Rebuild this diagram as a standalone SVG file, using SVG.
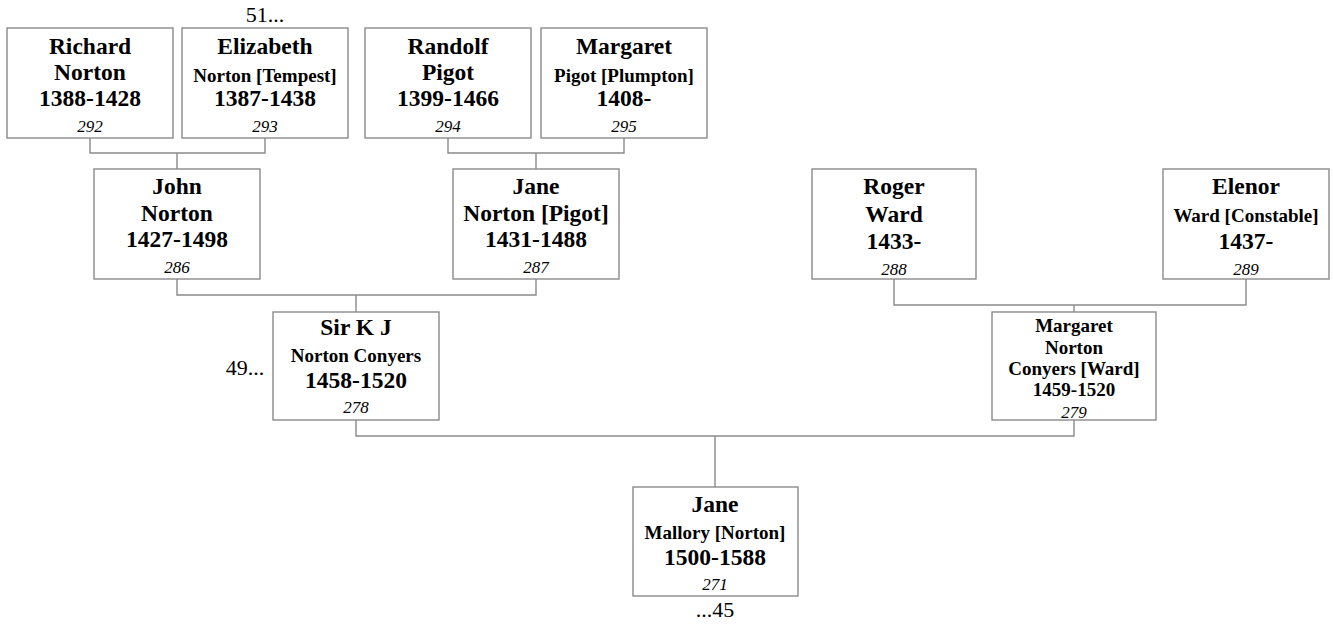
<svg xmlns="http://www.w3.org/2000/svg" width="1333" height="625" viewBox="0 0 1333 625">
<style>
.box{fill:#fff;stroke:#8a8a8a;stroke-width:1.4}
.con{fill:none;stroke:#8a8a8a;stroke-width:1.4}
text{font-family:"Liberation Serif","Times New Roman",serif;text-anchor:middle;fill:#000}
.n{font-size:23.5px;font-weight:bold}
.s{font-size:19px;font-weight:bold}
.i{font-size:17px;font-style:italic}
.r{font-size:22px}
</style>
<rect width="1333" height="625" fill="#fff"/>
<g id="connectors">
<path class="con" d="M90,138V153H265V138M177,153V169"/>
<path class="con" d="M448,138V153H624V138M536,153V169"/>
<path class="con" d="M177,279V295H536V279M356,295V312"/>
<path class="con" d="M894,279V305H1246V279M1074,305V312"/>
<path class="con" d="M356,420V436H1074V420M715,436V487"/>
</g>
<g id="richard">
<rect class="box" x="7" y="28" width="166" height="110"/>
<text class="n" x="90" y="54">Richard</text>
<text class="n" x="90" y="80">Norton</text>
<text class="n" x="90" y="106">1388-1428</text>
<text class="i" x="90" y="132">292</text>
</g>
<g id="elizabeth">
<rect class="box" x="182" y="28" width="166" height="110"/>
<text class="n" x="265" y="54">Elizabeth</text>
<text class="s" x="265" y="82">Norton [Tempest]</text>
<text class="n" x="265" y="106">1387-1438</text>
<text class="i" x="265" y="132">293</text>
</g>
<text class="r" x="265" y="22">51...</text>
<g id="randolf">
<rect class="box" x="365" y="28" width="166" height="110"/>
<text class="n" x="448" y="54">Randolf</text>
<text class="n" x="448" y="80">Pigot</text>
<text class="n" x="448" y="106">1399-1466</text>
<text class="i" x="448" y="132">294</text>
</g>
<g id="margaret-pigot">
<rect class="box" x="541" y="28" width="166" height="110"/>
<text class="n" x="624" y="54">Margaret</text>
<text class="s" x="624" y="82">Pigot [Plumpton]</text>
<text class="n" x="624" y="106">1408-</text>
<text class="i" x="624" y="132">295</text>
</g>
<g id="john">
<rect class="box" x="94" y="169" width="166" height="110"/>
<text class="n" x="177" y="194">John</text>
<text class="n" x="177" y="221">Norton</text>
<text class="n" x="177" y="247">1427-1498</text>
<text class="i" x="177" y="273">286</text>
</g>
<g id="jane-norton">
<rect class="box" x="453" y="169" width="166" height="110"/>
<text class="n" x="536" y="194">Jane</text>
<text class="n" x="536" y="221">Norton [Pigot]</text>
<text class="n" x="536" y="247">1431-1488</text>
<text class="i" x="536" y="273">287</text>
</g>
<g id="roger">
<rect class="box" x="812" y="169" width="164" height="110"/>
<text class="n" x="894" y="194">Roger</text>
<text class="n" x="894" y="222">Ward</text>
<text class="n" x="894" y="249">1433-</text>
<text class="i" x="894" y="275">288</text>
</g>
<g id="elenor">
<rect class="box" x="1163" y="169" width="166" height="110"/>
<text class="n" x="1246" y="194">Elenor</text>
<text class="s" x="1246" y="222">Ward [Constable]</text>
<text class="n" x="1246" y="249">1437-</text>
<text class="i" x="1246" y="275">289</text>
</g>
<g id="sir-kj">
<rect class="box" x="273" y="312" width="166" height="108"/>
<text class="n" x="356" y="335">Sir K J</text>
<text class="s" x="356" y="362">Norton Conyers</text>
<text class="n" x="356" y="388">1458-1520</text>
<text class="i" x="356" y="413">278</text>
</g>
<text class="r" x="245" y="375">49...</text>
<g id="margaret-norton">
<rect class="box" x="992" y="312" width="164" height="108"/>
<text class="s" x="1074" y="332">Margaret</text>
<text class="s" x="1074" y="354">Norton</text>
<text class="s" x="1074" y="375">Conyers [Ward]</text>
<text class="s" x="1074" y="396">1459-1520</text>
<text class="i" x="1074" y="418">279</text>
</g>
<g id="jane-mallory">
<rect class="box" x="633" y="487" width="165" height="109"/>
<text class="n" x="715" y="512">Jane</text>
<text class="s" x="715" y="539">Mallory [Norton]</text>
<text class="n" x="715" y="565">1500-1588</text>
<text class="i" x="715" y="590">271</text>
</g>
<text class="r" x="715" y="617">...45</text>
</svg>
